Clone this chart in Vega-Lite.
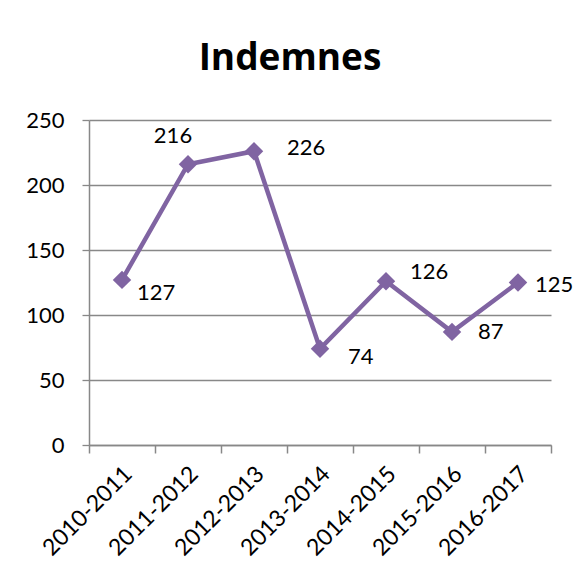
{
  "$schema": "https://vega.github.io/schema/vega-lite/v6.json",
  "autosize": {"type": "none"},
  "width": 462,
  "height": 325,
  "padding": {"left": 89, "top": 120, "right": 25, "bottom": 136},
  "background": "white",
  "title": {
    "text": "Indemnes",
    "font": "Open Sans",
    "fontWeight": "bold",
    "fontSize": 37,
    "color": "black",
    "anchor": "middle",
    "baseline": "alphabetic",
    "offset": 2,
    "dx": -30
  },
  "config": {
    "view": {"stroke": null},
    "font": "Lato"
  },
  "data": {
    "values": [
      {"saison": "2010-2011", "valeur": 127},
      {"saison": "2011-2012", "valeur": 216},
      {"saison": "2012-2013", "valeur": 226},
      {"saison": "2013-2014", "valeur": 74},
      {"saison": "2014-2015", "valeur": 126},
      {"saison": "2015-2016", "valeur": 87},
      {"saison": "2016-2017", "valeur": 125}
    ]
  },
  "encoding": {
    "x": {
      "field": "saison",
      "type": "nominal",
      "sort": null,
      "scale": {"type": "band", "paddingInner": 0, "paddingOuter": 0},
      "axis": {
        "title": null,
        "tickBand": "extent",
        "grid": false,
        "domainColor": "#888888",
        "domainWidth": 1.5,
        "tickColor": "#888888",
        "tickWidth": 1.5,
        "tickSize": 8,
        "labelAngle": -45,
        "labelAlign": "right",
        "labelBaseline": "middle",
        "labelFont": "Lato",
        "labelFontSize": 23,
        "labelColor": "black",
        "labelPadding": 17,
        "labelOffset": 6
      }
    },
    "y": {
      "field": "valeur",
      "type": "quantitative",
      "scale": {"domain": [0, 250], "nice": false},
      "axis": {
        "title": null,
        "values": [0, 50, 100, 150, 200, 250],
        "grid": true,
        "gridColor": "#888888",
        "gridWidth": 1.3,
        "domainColor": "#888888",
        "domainWidth": 1.5,
        "tickColor": "#888888",
        "tickWidth": 1.3,
        "tickSize": 7,
        "labelFont": "Lato",
        "labelFontSize": 22,
        "labelColor": "black",
        "labelPadding": 18
      }
    }
  },
  "layer": [
    {
      "mark": {"type": "line", "color": "#8064A2", "strokeWidth": 4.5}
    },
    {
      "mark": {"type": "point", "shape": "diamond", "filled": true, "color": "#8064A2", "opacity": 1, "size": 340}
    },
    {
      "transform": [{"filter": "datum.saison == '2010-2011'"}],
      "mark": {"type": "text", "align": "left", "baseline": "middle", "dx": 15, "dy": 13, "font": "Lato", "fontSize": 22, "color": "black"},
      "encoding": {"text": {"field": "valeur"}}
    },
    {
      "transform": [{"filter": "datum.saison == '2011-2012'"}],
      "mark": {"type": "text", "align": "center", "baseline": "middle", "dx": -15, "dy": -28, "font": "Lato", "fontSize": 22, "color": "black"},
      "encoding": {"text": {"field": "valeur"}}
    },
    {
      "transform": [{"filter": "datum.saison == '2012-2013'"}],
      "mark": {"type": "text", "align": "left", "baseline": "middle", "dx": 33, "dy": -3, "font": "Lato", "fontSize": 22, "color": "black"},
      "encoding": {"text": {"field": "valeur"}}
    },
    {
      "transform": [{"filter": "datum.saison == '2013-2014'"}],
      "mark": {"type": "text", "align": "left", "baseline": "middle", "dx": 28, "dy": 8, "font": "Lato", "fontSize": 22, "color": "black"},
      "encoding": {"text": {"field": "valeur"}}
    },
    {
      "transform": [{"filter": "datum.saison == '2014-2015'"}],
      "mark": {"type": "text", "align": "left", "baseline": "middle", "dx": 24, "dy": -9, "font": "Lato", "fontSize": 22, "color": "black"},
      "encoding": {"text": {"field": "valeur"}}
    },
    {
      "transform": [{"filter": "datum.saison == '2015-2016'"}],
      "mark": {"type": "text", "align": "left", "baseline": "middle", "dx": 26, "dy": 0, "font": "Lato", "fontSize": 22, "color": "black"},
      "encoding": {"text": {"field": "valeur"}}
    },
    {
      "transform": [{"filter": "datum.saison == '2016-2017'"}],
      "mark": {"type": "text", "align": "left", "baseline": "middle", "dx": 17, "dy": 2, "font": "Lato", "fontSize": 22, "color": "black"},
      "encoding": {"text": {"field": "valeur"}}
    }
  ]
}
